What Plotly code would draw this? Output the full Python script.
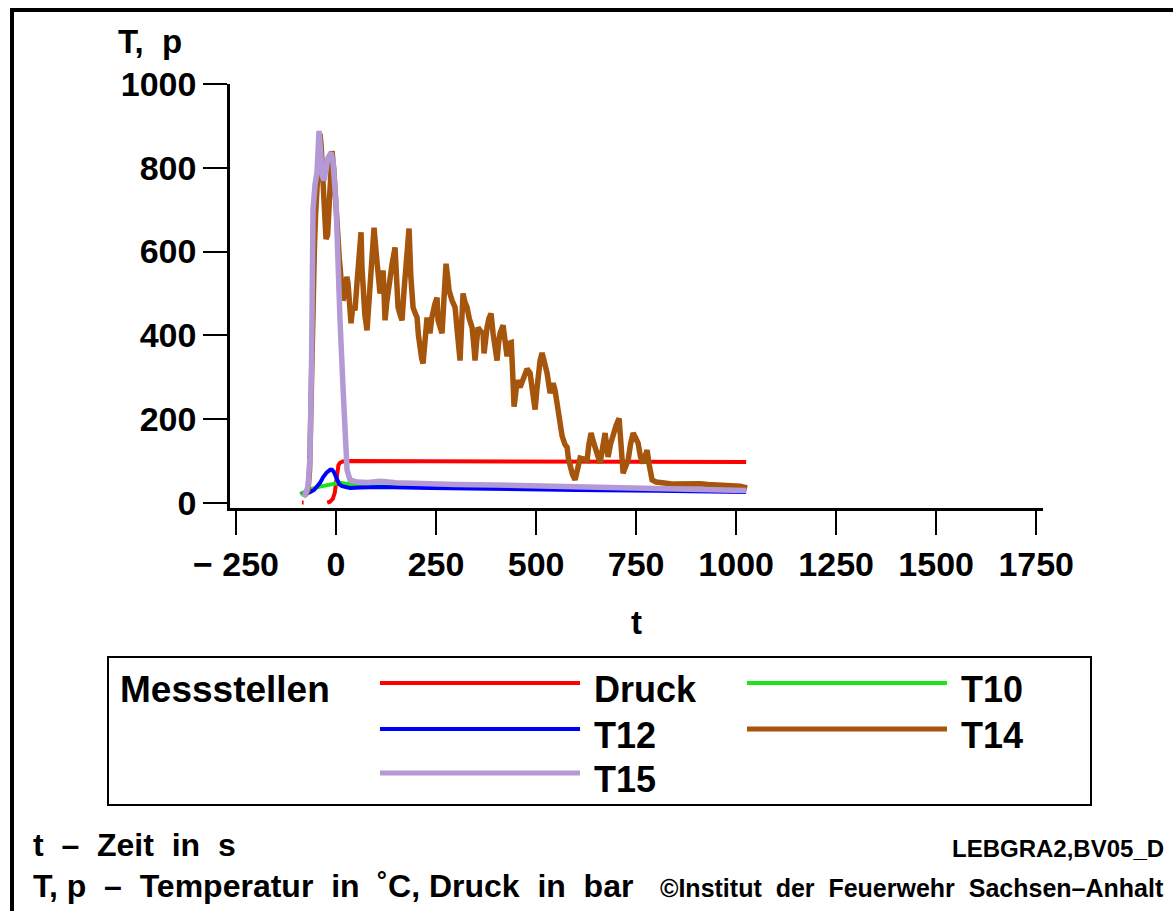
import plotly.graph_objects as go

# ---------------- data ----------------
druck_t = [-85, -81, -60, -22, -15, -8, -3, 0, 3, 6, 10, 17, 30, 100, 300, 500, 700, 900, 1025]
druck_v = [1, 1, None, 1, 3, 10, 25, 48, 75, 90, 96, 99, 100, 100, 100, 100, 99, 99, 98]

t10_t = [-90, -75, -57, -40, -23, -10, -2, 8, 17, 35, 60, 100, 200, 400, 600, 800, 1025]
t10_v = [22, 28, 35, 39, 43, 46, 48, 48, 47, 44, 41, 40, 38, 36, 34, 32, 29]

t12_t = [-85, -75, -65, -55, -48, -40, -32, -24, -15, -10, -6, -2, 2, 8, 15, 25, 35, 60,
         110, 235, 400, 600, 800, 1025]
t12_v = [19, 22, 26, 31, 38, 48, 62, 72, 79, 79, 75, 65, 55, 45, 40, 37, 36, 37,
         38, 36, 33, 31, 29, 26]

t14_t = [-78, -70, -66, -63, -60, -57, -54, -51, -47, -43,
         -40, -37, -33, -29, -25, -21, -17, -13, -10, -6,
         -2, 3, 8, 13, 17.5, 22, 27, 30, 34, 37.5,
         42, 47.5, 52, 57, 62.5, 65, 67.5, 72, 77.5, 82,
         87.5, 91, 95, 100, 105, 110, 114, 117.5, 120, 122.5,
         127, 132.5, 140, 147.5, 151, 155, 160, 165, 170, 176,
         182.5, 187, 192.5, 197, 202.5, 206, 210, 214, 217.5, 222,
         227.5, 231, 235, 239, 242.5, 247, 252.5, 255, 260, 265,
         270, 275, 279, 282.5, 290, 297.5, 304, 310, 314, 317.5,
         322, 327.5, 333, 340, 344, 347.5, 351, 355, 361, 367.5,
         370, 374, 377.5, 382, 387.5, 392.5, 397, 402.5, 406, 410,
         417.5, 422, 427.5, 432, 438, 442, 445, 449, 452.5, 460,
         468, 477.5, 485, 490, 497.5, 502, 505, 510, 515, 521,
         527.5, 535, 542.5, 547.5, 555, 560, 565, 572, 577.5, 581,
         585, 591, 597.5, 603, 610, 618, 627.5, 632, 637.5, 642,
         647.5, 654, 660, 666, 672.5, 676, 680, 686, 692.5, 700,
         707.5, 712, 717.5, 723, 730, 736, 742.5, 749, 755, 761,
         767.5, 772, 777.5, 783, 790, 800, 810, 825, 842.5, 860,
         875, 892.5, 910, 930, 952.5, 975, 992.5, 1010, 1027.5]
t14_v = [18, 30, 80, 250, 450, 600, 610, 690, 780, 860,
         881, 850, 760, 660, 630, 640, 720, 820, 840, 800,
         720, 650, 586, 530, 483, 500, 540, 524, 480, 429,
         470, 460, 520, 600, 646, 560, 507, 450, 412, 470,
         531, 600, 657, 600, 540, 500, 520, 555, 500, 436,
         480, 531, 570, 610, 540, 467, 450, 436, 507, 580,
         655, 540, 467, 455, 443, 400, 364, 345, 333, 390,
         443, 420, 405, 440, 460, 475, 490, 436, 420, 405,
         490, 571, 540, 507, 483, 467, 400, 340, 430, 500,
         480, 467, 440, 419, 380, 340, 380, 419, 410, 405,
         357, 400, 419, 440, 452, 405, 370, 340, 380, 405,
         424, 390, 350, 381, 383, 300, 230, 260, 293, 276,
         300, 320, 310, 270, 223, 270, 310, 340, 358, 335,
         310, 262, 286, 269, 217, 185, 160, 140, 133, 105,
         86, 68, 55, 80, 107, 105, 102, 140, 167, 150,
         133, 110, 95, 130, 167, 140, 110, 140, 167, 185,
         202, 130, 71, 85, 102, 140, 167, 155, 143, 110,
         95, 110, 126, 90, 55, 50, 48, 47, 45, 46,
         44, 45, 46, 44, 43, 42, 42, 40, 36]

t15_t = [-82, -75, -70, -65, -61, -57.5, -52.5, -47.5, -42.5, -38, -34, -30, -25, -20,
         -12.5, -7.5, 0, 5, 10, 17.5, 22.5, 27.5, 35, 52, 80, 110, 150, 200, 300, 400,
         500, 600, 700, 800, 900, 1025]
t15_v = [14, 25, 40, 110, 350, 700, 760, 790, 888, 820, 780, 770, 800, 824,
         836, 815, 714, 514, 436, 276, 157, 79, 55, 50, 49, 52, 48, 46, 44, 43,
         41, 38, 36, 34, 32, 30]

x_tickvals = [-250, 0, 250, 500, 750, 1000, 1250, 1500, 1750]
x_ticktext = ["\u2212 250", "0", "250", "500", "750", "1000", "1250", "1500", "1750"]
y_tickvals = [0, 200, 400, 600, 800, 1000]
y_ticktext = ["0", "200", "400", "600", "800", "1000"]

series_names = ["Druck", "T10", "T12", "T14", "T15"]
series_colors = ["#ff0000", "#19e619", "#0000ff", "#a6550c", "#b39ad6"]
series_widths = [4, 4, 4, 5.5, 5.5]

# ---------------- layout geometry (pixels) ----------------
W, H = 1173, 911
PL, PR, PT, PB = 230, 1043, 84, 508

def fx(px):
    return (px - PL) / (PR - PL)

def fy(py):
    return (PB - py) / (PB - PT)

FONT = "Liberation Sans, Arial, Helvetica, sans-serif"

fig = go.Figure()
data = [(druck_t, druck_v), (t10_t, t10_v), (t12_t, t12_v), (t14_t, t14_v), (t15_t, t15_v)]
for (xs, ys), name, col, wd in zip(data, series_names, series_colors, series_widths):
    fig.add_trace(go.Scatter(x=xs, y=ys, mode="lines", name=name,
                             line=dict(color=col, width=wd),
                             connectgaps=False, showlegend=False, hoverinfo="skip"))

axis_common = dict(showline=True, linecolor="black", linewidth=2.5,
                   ticks="outside", ticklen=24, tickwidth=2, tickcolor="black",
                   showgrid=False, zeroline=False,
                   tickfont=dict(family=FONT, size=34, color="black", weight="bold"))
fig.update_xaxes(range=[-265, 1767], tickvals=x_tickvals, ticktext=x_ticktext, **axis_common)
fig.update_yaxes(range=[-12, 1000], tickvals=y_tickvals, ticktext=y_ticktext, **axis_common)

shapes = []
# frame
shapes.append(dict(type="line", xref="paper", yref="paper", x0=fx(10), x1=fx(1200), y0=fy(10), y1=fy(10),
                   line=dict(color="black", width=4)))
shapes.append(dict(type="line", xref="paper", yref="paper", x0=fx(12), x1=fx(12), y0=fy(8), y1=fy(930),
                   line=dict(color="black", width=4)))
# legend box
shapes.append(dict(type="rect", xref="paper", yref="paper", x0=fx(108), x1=fx(1091), y0=fy(657), y1=fy(805),
                   line=dict(color="black", width=2)))

legend_pos = [(380, 683), (747, 683), (380, 729), (747, 729), (380, 773)]
annotations = []
for (lx, ly), name, col, wd in zip(legend_pos, series_names, series_colors, series_widths):
    shapes.append(dict(type="line", xref="paper", yref="paper", x0=fx(lx), x1=fx(lx + 200),
                       y0=fy(ly), y1=fy(ly), line=dict(color=col, width=min(wd, 5))))
    annotations.append(dict(text=name, xref="paper", yref="paper", x=fx(lx + 212), y=fy(ly + 6),
                            xanchor="left", yanchor="middle", showarrow=False,
                            font=dict(family=FONT, size=36, color="black", weight="bold")))

def txt(s, px, py, size, anchor="left"):
    annotations.append(dict(text=s, xref="paper", yref="paper", x=fx(px), y=fy(py),
                            xanchor=anchor, yanchor="middle", showarrow=False,
                            font=dict(family=FONT, size=size, color="black", weight="bold")))

txt("Messstellen", 118, 689, 37)
txt("T,  p", 116, 42, 33)
txt("t", 636, 622, 33, "center")
txt("t  \u2013  Zeit  in  s", 31, 845, 32)
txt("T, p  \u2013  Temperatur  in  \u02daC, Druck  in  bar", 31, 886, 32)
txt("LEBGRA2,BV05_D", 1166, 848, 24, "right")
txt("\u00a9Institut  der  Feuerwehr  Sachsen\u2013Anhalt", 1166, 888, 25, "right")

fig.update_layout(width=W, height=H, autosize=False,
                  margin=dict(l=PL, r=W - PR, t=PT, b=H - PB, pad=0),
                  paper_bgcolor="white", plot_bgcolor="white",
                  shapes=shapes, annotations=annotations, showlegend=False)

fig.write_html("out.html")
